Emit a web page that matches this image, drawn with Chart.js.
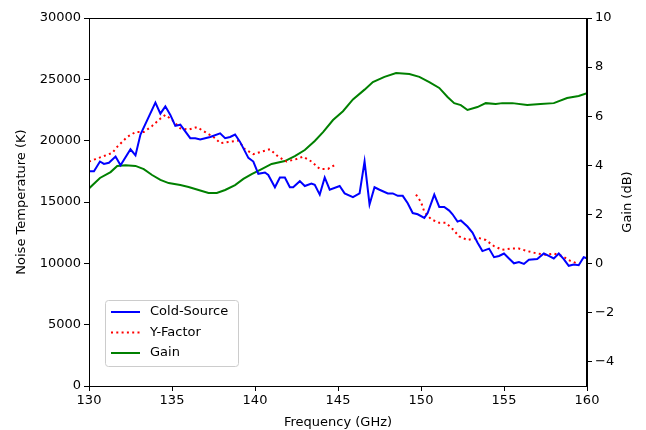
<!DOCTYPE html>
<html>
<head>
<meta charset="utf-8">
<script src="https://cdn.jsdelivr.net/npm/chart.js@4/dist/chart.umd.min.js"></script>
<style>
  html, body { margin: 0; padding: 0; background: #fff; }
  #wrap { width: 646px; height: 430px; position: relative; }
</style>
</head>
<body>
<div id="wrap"><canvas id="chart"></canvas></div>
<script>
// Cold-source noise temperature (K)
const coldFreq = [130.0, 130.3, 130.66, 130.9, 131.2, 131.6, 131.9, 132.5, 132.8, 133.1,
  134.0, 134.3, 134.6, 134.9, 135.2, 135.5, 136.1, 136.4, 136.7, 137.3,
  137.9, 138.2, 138.5, 138.8, 139.1, 139.6, 139.9, 140.2, 140.6, 140.8,
  141.2, 141.5, 141.8, 142.1, 142.3, 142.7, 143.0, 143.4, 143.6, 143.9,
  144.2, 144.5, 145.1, 145.4, 145.9, 146.3, 146.6, 146.9, 147.2, 147.5,
  148.0, 148.3, 148.6, 148.9, 149.2, 149.5, 149.8, 150.2, 150.4, 150.8,
  151.1, 151.4, 151.7, 151.9, 152.2, 152.4, 152.8, 153.1, 153.4, 153.7,
  154.1, 154.4, 154.7, 155.0, 155.3, 155.6, 155.9, 156.2, 156.5, 157.0,
  157.4, 157.7, 158.0, 158.3, 158.6, 158.9, 159.2, 159.5, 159.8, 160.0];
const coldTemp = [17500, 17500, 18300, 18100, 18200, 18700, 18000, 19300, 18800, 20500,
  23100, 22200, 22800, 22100, 21200, 21300, 20200, 20200, 20100, 20300,
  20600, 20200, 20300, 20500, 19900, 18600, 18300, 17300, 17400, 17200,
  16200, 17000, 17000, 16200, 16200, 16700, 16300, 16500, 16400, 15600,
  17000, 16000, 16300, 15700, 15400, 15700, 18300, 14800, 16200, 16000,
  15700, 15700, 15500, 15500, 14900, 14100, 14000, 13700, 14100, 15600,
  14600, 14600, 14300, 14000, 13400, 13500, 13000, 12500, 11700, 11000,
  11200, 10500, 10600, 10800, 10400, 10000, 10100, 9950, 10300, 10350,
  10800, 10600, 10400, 10800, 10350, 9800, 9900, 9850, 10500, 10400];

// Y-factor noise temperature (K); null = gap in measurement
const yfFreq = [130.0, 130.4, 130.8, 131.4, 131.7, 132.3, 132.8, 133.3, 133.8, 134.3,
  134.6, 135.0, 135.5, 136.0, 136.5, 137.0, 137.6, 137.9, 138.4, 139.0,
  139.4, 139.9, 140.4, 140.9, 141.4, 141.9, 142.5, 142.9, 143.4, 143.9,
  144.4, 144.9, 147.0, 149.7, 150.0, 150.2, 150.6, 151.1, 151.5, 151.9,
  152.3, 152.8, 153.4, 153.9, 154.4, 154.9, 155.4, 155.9, 156.4, 157.0,
  157.5, 158.0, 158.5, 159.0, 159.4];
const yfTemp = [18300, 18500, 18700, 19000, 19500, 20300, 20700, 20700, 21200, 21800,
  22100, 21700, 21000, 20900, 21100, 20700, 20200, 19800, 19900, 20000,
  19300, 18900, 19100, 19300, 18700, 18300, 18500, 18700, 18300, 17700,
  17700, 18100, null, 15600, 15000, 14200, 13600, 13300, 13300, 12800,
  12200, 11900, 12100, 11900, 11400, 11100, 11200, 11200, 11000, 10800,
  10700, 10800, 10600, 10200, 10000];

// Gain (dB)
const gainFreq = [130.0, 130.66, 131.3, 131.7, 132.2, 132.8, 133.3, 133.8, 134.3, 134.8,
  135.5, 136.0, 136.6, 137.2, 137.7, 138.2, 138.8, 139.3, 139.8, 140.4,
  141.0, 141.8, 142.4, 143.0, 143.6, 144.1, 144.7, 145.3, 145.9, 146.6,
  147.1, 147.8, 148.5, 149.3, 149.9, 150.5, 151.1, 151.6, 152.0, 152.4,
  152.8, 153.4, 153.9, 154.5, 154.9, 155.5, 156.4, 157.2, 158.0, 158.8,
  159.5, 160.0];
const gainDb = [3.05, 3.48, 3.72, 3.97, 4.0, 3.97, 3.84, 3.6, 3.4, 3.27,
  3.19, 3.11, 2.99, 2.87, 2.87, 2.99, 3.19, 3.44, 3.64, 3.84,
  4.05, 4.17, 4.37, 4.62, 4.99, 5.35, 5.84, 6.2, 6.68, 7.08,
  7.39, 7.6, 7.76, 7.72, 7.6, 7.39, 7.15, 6.78, 6.53, 6.45,
  6.25, 6.37, 6.53, 6.49, 6.53, 6.53, 6.45, 6.49, 6.53, 6.74,
  6.82, 6.94];

const xTicks = [130, 135, 140, 145, 150, 155, 160];

function pairs(xs, ys) {
  return xs.map((x, i) => ({ x: x, y: ys[i] }));
}

const FONT = { family: 'DejaVu Sans', size: 13 };

// top spine, right axis title (reads upward like matplotlib) and the in-plot legend
const framePlugin = {
  id: 'frame',
  afterDraw(chart) {
    const ctx = chart.ctx;
    const a = chart.chartArea;
    ctx.save();
    ctx.strokeStyle = '#000';
    ctx.lineWidth = 1;
    ctx.strokeRect(a.left + 0.5, a.top + 0.5, a.right - a.left - 1, a.bottom - a.top);

    ctx.font = '13px "DejaVu Sans"';
    ctx.fillStyle = '#000';
    ctx.save();
    ctx.translate(628, (a.top + a.bottom) / 2);
    ctx.rotate(-Math.PI / 2);
    ctx.textAlign = 'center';
    ctx.textBaseline = 'middle';
    ctx.fillText('Gain (dB)', 0, 0);
    ctx.restore();

    // legend
    const bx = a.left + 16, by = a.bottom - 86, bw = 133, bh = 66;
    ctx.fillStyle = 'rgba(255,255,255,0.8)';
    ctx.strokeStyle = '#cccccc';
    ctx.beginPath();
    ctx.roundRect(bx + 0.5, by + 0.5, bw, bh, 3);
    ctx.fill();
    ctx.stroke();
    ctx.textBaseline = 'middle';
    chart.data.datasets.forEach((ds, i) => {
      const y = by + 12 + i * 20.5;
      ctx.strokeStyle = ds.borderColor;
      ctx.lineWidth = 2;
      ctx.setLineDash(ds.borderDash || []);
      ctx.beginPath();
      ctx.moveTo(bx + 6, y);
      ctx.lineTo(bx + 35, y);
      ctx.stroke();
      ctx.setLineDash([]);
      ctx.fillStyle = '#000';
      ctx.fillText(ds.label, bx + 45, y);
    });
    ctx.restore();
  }
};

new Chart(document.getElementById('chart'), {
  type: 'line',
  data: {
    datasets: [
      {
        label: 'Cold-Source',
        data: pairs(coldFreq, coldTemp),
        borderColor: '#0000ff',
        borderWidth: 2,
        pointRadius: 0,
        yAxisID: 'y'
      },
      {
        label: 'Y-Factor',
        data: pairs(yfFreq, yfTemp),
        borderColor: '#ff0000',
        borderWidth: 2,
        borderDash: [2, 3.3],
        pointRadius: 0,
        spanGaps: false,
        yAxisID: 'y'
      },
      {
        label: 'Gain',
        data: pairs(gainFreq, gainDb),
        borderColor: '#008000',
        borderWidth: 2,
        pointRadius: 0,
        yAxisID: 'y1'
      }
    ]
  },
  options: {
    responsive: true,
    maintainAspectRatio: false,
    animation: false,
    layout: { padding: { top: 18, left: 0, right: 0, bottom: 0 } },
    plugins: {
      legend: { display: false },
      tooltip: { enabled: false }
    },
    scales: {
      x: {
        type: 'linear',
        min: 130,
        max: 160,
        afterBuildTicks: s => { s.ticks = xTicks.map(v => ({ value: v })); },
        afterFit: s => { s.height = 44; },
        grid: { drawOnChartArea: false, tickLength: 5, color: '#000' },
        border: { color: '#000' },
        ticks: { color: '#000', font: FONT, padding: 2, maxRotation: 0 },
        title: { display: true, text: 'Frequency (GHz)', color: '#000', font: FONT, padding: { top: 2, bottom: 0 } }
      },
      y: {
        position: 'left',
        min: 0,
        max: 30000,
        afterFit: s => { s.width = 89; },
        grid: { drawOnChartArea: false, tickLength: 5, color: '#000' },
        border: { color: '#000' },
        ticks: { stepSize: 5000, color: '#000', font: FONT, padding: 3, callback: v => String(v) },
        title: { display: true, text: 'Noise Temperature (K)', color: '#000', font: FONT, padding: { top: 14, bottom: 4 } }
      },
      y1: {
        position: 'right',
        min: -5,
        max: 10,
        afterFit: s => { s.width = 59; },
        grid: { drawOnChartArea: false, tickLength: 5, color: '#000' },
        border: { color: '#000' },
        ticks: {
          stepSize: 2,
          includeBounds: false,
          color: '#000',
          font: FONT,
          padding: 3,
          callback: v => (v < 0 ? '\u2212' + Math.abs(v) : String(v))
        },
        title: { display: false }
      }
    }
  },
  plugins: [framePlugin]
});
</script>
</body>
</html>
